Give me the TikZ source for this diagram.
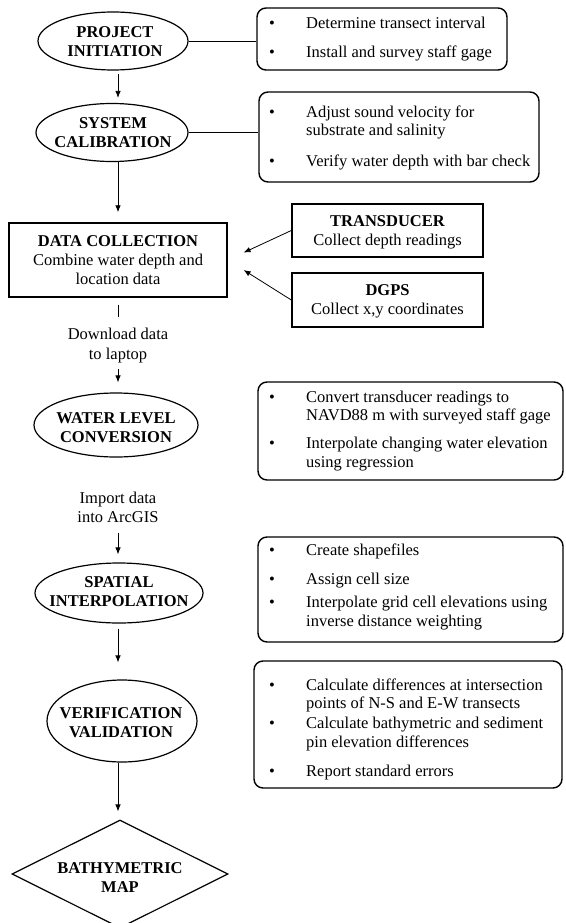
\documentclass[tikz,border=0pt]{standalone}
\usepackage{fontspec}
\setmainfont{Liberation Serif}
\usetikzlibrary{shapes.geometric,arrows.meta}
\tikzset{
 fnt/.style={font=\fontsize{16.5}{18.8}\selectfont},
 ell/.style={draw, ellipse, line width=1.2pt, inner sep=0pt},
 rbox/.style={draw, rounded corners=9pt, line width=1.4pt, inner sep=0pt},
 sbox/.style={draw, line width=1.4pt, inner sep=0pt},
 ttl/.style={font=\fontsize{16.5}{18.8}\selectfont\bfseries, align=center, inner sep=0pt},
 ln/.style={line width=0.8pt},
 arr/.style={line width=0.8pt, -{Latex[length=7pt,width=5.5pt]}},
 itm/.style={fnt, anchor=base west, inner sep=0pt},
 bul/.style={fnt, anchor=base, inner sep=0pt},
 ctext/.style={fnt, anchor=base, inner sep=0pt},
 btext/.style={font=\fontsize{16.5}{18.8}\selectfont\bfseries, anchor=base, inner sep=0pt},
}
\begin{document}
\begin{tikzpicture}[x=1pt,y=-1pt]
\path[fill=white, use as bounding box] (0,0) rectangle (565,923);
\coordinate (axis) at (118,0);

% ---------- main column ----------
\node[ell, minimum width=150pt, minimum height=58pt] (e1) at (113,41) {};
\node[ttl] (t1) at (115,41.5) {PROJECT\\INITIATION};
\node[ell, minimum width=152pt, minimum height=58pt] (e2) at (112,132.5) {};
\node[ttl] (t2) at (113,132.5) {SYSTEM\\CALIBRATION};

\node[sbox, minimum width=218pt, minimum height=74pt] (dc) at (118,260) {};
\node[btext] (dc1) at (118,246.5) {DATA COLLECTION};
\node[ctext] (dc2) at (118,265.5) {Combine water depth and};
\node[ctext] (dc3) at (118,284.5) {location data};

\node[ctext] (dl1) at (118,339.5) {Download data};
\node[ctext] (dl2) at (118,359.5) {to laptop};

\node[ell, minimum width=164pt, minimum height=64pt] (e3) at (116,425) {};
\node[ttl] (t3) at (116,428) {WATER LEVEL\\CONVERSION};

\node[ctext] (im1) at (118,503.5) {Import data};
\node[ctext] (im2) at (118,522.5) {into ArcGIS};

\node[ell, minimum width=168pt, minimum height=60pt] (e4) at (119,593) {};
\node[ttl] (t4) at (119,591.5) {SPATIAL\\INTERPOLATION};
\node[ell, minimum width=150pt, minimum height=82pt] (e5) at (122,721) {};
\node[ttl] (t5) at (121,722.5) {VERIFICATION\\VALIDATION};
\node[draw, diamond, line width=1.2pt, inner sep=0pt, minimum width=216pt, minimum height=108pt] (d) at (120,874) {};
\node[ttl] (t6) at (120,877.5) {BATHYMETRIC\\MAP};

% ---------- side boxes ----------
\node[rbox, minimum width=250pt, minimum height=62pt] (b1) at (382,39) {};
\node[bul] (b1a) at (272,28.5) {•};
\node[itm] (b1at) at (306,28.5) {Determine transect interval};
\node[bul] (b1b) at (272,57.5) {•};
\node[itm] (b1bt) at (306,57.5) {Install and survey staff gage};

\node[rbox, minimum width=280pt, minimum height=90pt] (b2) at (399,137) {};
\node[bul] (b2a) at (272,117.5) {•};
\node[itm] (b2at) at (306,117.5) {Adjust sound velocity for};
\node[itm] (b2at2) at (306,135.5) {substrate and salinity};
\node[bul] (b2b) at (272,166.5) {•};
\node[itm] (b2bt) at (306,166.5) {Verify water depth with bar check};

\node[sbox, minimum width=191pt, minimum height=53pt] (tr) at (387.5,230.5) {};
\node[btext] (tr1) at (387.5,226.5) {TRANSDUCER};
\node[ctext] (tr2) at (387.5,245.5) {Collect depth readings};

\node[sbox, minimum width=191pt, minimum height=54pt] (dg) at (387.5,300) {};
\node[btext] (dg1) at (387.5,295.5) {DGPS};
\node[ctext] (dg2) at (387.5,314.5) {Collect x,y coordinates};

\node[rbox, minimum width=305pt, minimum height=98pt] (b3) at (410.5,431) {};
\node[bul] (b3a) at (272,402.5) {•};
\node[itm] (b3at) at (306,402.5) {Convert transducer readings to};
\node[itm] (b3at2) at (306,420.5) {NAVD88 m with surveyed staff gage};
\node[bul] (b3b) at (272,448.5) {•};
\node[itm] (b3bt) at (306,448.5) {Interpolate changing water elevation};
\node[itm] (b3bt2) at (306,467.5) {using regression};

\node[rbox, minimum width=305pt, minimum height=105pt] (b4) at (410.5,589.5) {};
\node[bul] (b4a) at (272,555.5) {•};
\node[itm] (b4at) at (306,555.5) {Create shapefiles};
\node[bul] (b4b) at (272,584.5) {•};
\node[itm] (b4bt) at (306,584.5) {Assign cell size};
\node[bul] (b4c) at (272,607.5) {•};
\node[itm] (b4ct) at (306,607.5) {Interpolate grid cell elevations using};
\node[itm] (b4ct2) at (306,626.5) {inverse distance weighting};

\node[rbox, minimum width=308pt, minimum height=127pt] (b5) at (408,724.5) {};
\node[bul] (b5a) at (272,690.5) {•};
\node[itm] (b5at) at (306,690.5) {Calculate differences at intersection};
\node[itm] (b5at2) at (306,708.5) {points of N-S and E-W transects};
\node[bul] (b5b) at (272,728.5) {•};
\node[itm] (b5bt) at (306,728.5) {Calculate bathymetric and sediment};
\node[itm] (b5bt2) at (306,747.5) {pin elevation differences};
\node[bul] (b5c) at (272,776.5) {•};
\node[itm] (b5ct) at (306,776.5) {Report standard errors};

% ---------- connectors ----------
\draw[ln] (e1.east) -- (e1.east -| b1.west);
\draw[ln] (e2.east) -- (e2.east -| b2.west);
\draw[arr, shorten <=3pt, shorten >=5pt] (e1.south -| axis) -- (e2.north -| axis);
\draw[arr, shorten >=10pt] (e2.south -| axis) -- (dc.north -| axis);
\draw[ln, shorten <=7pt, shorten >=10.5pt] (dc.south -| axis) -- (dl1.north -| axis);
\draw[arr, shorten <=6pt, shorten >=10pt] (dl2.south -| axis) -- (e3.north -| axis);
\draw[arr, shorten <=10pt, shorten >=8pt] (im2.south -| axis) -- (e4.north -| axis);
\draw[arr, shorten <=5pt, shorten >=17pt] (e4.south -| axis) -- (e5.north -| axis);
\draw[arr, shorten >=8pt] (e5.south -| axis) -- (d.north -| axis);
\draw[arr, shorten >=17.5pt] (tr.west) -- (dc.east);
\draw[arr, shorten >=18.8pt] (dg.west) -- (dc.east);
\end{tikzpicture}
\end{document}
